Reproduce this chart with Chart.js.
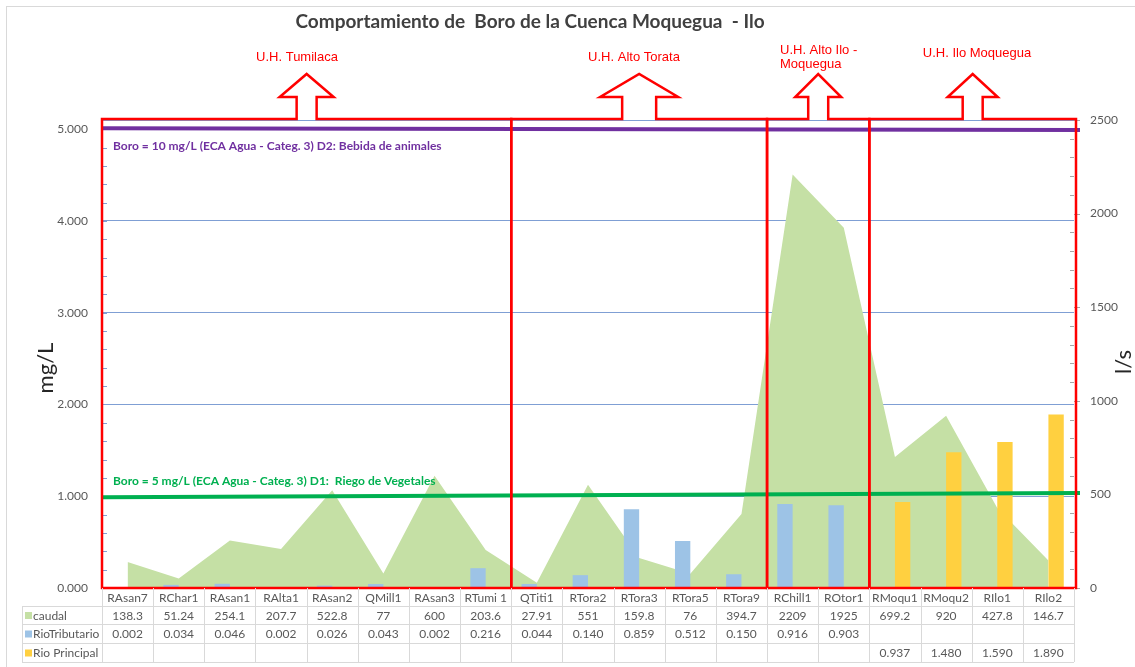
<!DOCTYPE html>
<html lang="es">
<head>
<meta charset="utf-8">
<title>Comportamiento de Boro de la Cuenca Moquegua - Ilo</title>
<script src="https://cdn.jsdelivr.net/npm/chart.js@4.4.1/dist/chart.umd.min.js"></script>
<style>
    html, body { margin: 0; padding: 0; background: #ffffff; }
    #lienzo { display: block; }
</style>
</head>
<body>
<canvas id="lienzo" width="1135" height="667"></canvas>
<script>
// Datos
const estaciones = ['RAsan7', 'RChar1', 'RAsan1', 'RAlta1', 'RAsan2', 'QMill1', 'RAsan3', 'RTumi 1', 'QTiti1',
    'RTora2', 'RTora3', 'RTora5', 'RTora9', 'RChill1', 'ROtor1', 'RMoqu1', 'RMoqu2', 'RIlo1', 'RIlo2'];
const caudal = [138.3, 51.24, 254.1, 207.7, 522.8, 77, 600, 203.6, 27.91, 551, 159.8, 76, 394.7, 2209, 1925, 699.2, 920, 427.8, 146.7];
const rioTributario = [0.002, 0.034, 0.046, 0.002, 0.026, 0.043, 0.002, 0.216, 0.044, 0.140, 0.859, 0.512, 0.150, 0.916, 0.903, null, null, null, null];
const rioPrincipal = [null, null, null, null, null, null, null, null, null, null, null, null, null, null, null, 0.937, 1.480, 1.590, 1.890];
const ticksMgL = [0, 1, 2, 3, 4, 5];
const ticksCaudal = [0, 500, 1000, 1500, 2000, 2500];
const maxMgL = 5.1;
const maxCaudal = 2500;

const lineasEca = [
    { texto: 'Boro = 10 mg/L (ECA Agua - Categ. 3) D2: Bebida de animales', inicio: 5.01, fin: 4.99 },
    { texto: 'Boro = 5 mg/L (ECA Agua - Categ. 3) D1:  Riego de Vegetales', inicio: 0.99, fin: 1.035 }
];
const unidades = [
    { nombre: ['U.H. Tumilaca'], desde: 0, hasta: 7 },
    { nombre: ['U.H. Alto Torata'], desde: 8, hasta: 12 },
    { nombre: ['U.H. Alto Ilo -', 'Moquegua'], desde: 13, hasta: 14 },
    { nombre: ['U.H. Ilo Moquegua'], desde: 15, hasta: 18 }
];

// Estilos
const COLOR_CAUDAL = 'rgb(197, 224, 165)';
const COLOR_TRIBUTARIO = 'rgb(157, 195, 230)';
const COLOR_PRINCIPAL = 'rgb(255, 208, 64)';
const COLOR_TEXTO = '#595959';
const COLOR_GRILLA = '#7F9FD4';
const FUENTE = 'Lato, "Open Sans", sans-serif';
const FUENTE_ROJA = '"Liberation Sans", Arial, sans-serif';
const estiloLineasEca = [
    { color: '#7030A0', textoY: 146 },
    { color: '#00B050', textoY: 481 }
];
const estiloFlechas = [
    { cabeza: 27, asta: 10, texto: { x: 297, y: [57], alinear: 'center' } },
    { cabeza: 39, asta: 17, texto: { x: 634, y: [57], alinear: 'center' } },
    { cabeza: 23, asta: 10, texto: { x: 780, y: [50, 64], alinear: 'left' } },
    { cabeza: 25, asta: 10, texto: { x: 977, y: [53], alinear: 'center' } }
];

function anchoCategoria(escalaX) {
    return escalaX.width / estaciones.length;
}

function dibujarLineasEca(chart) {
    const { ctx, chartArea, scales: { y } } = chart;
    ctx.save();
    lineasEca.forEach((linea, i) => {
        const estilo = estiloLineasEca[i];
        ctx.strokeStyle = estilo.color;
        ctx.lineWidth = 4;
        ctx.beginPath();
        ctx.moveTo(chartArea.left, y.getPixelForValue(linea.inicio));
        ctx.lineTo(chartArea.right + 6, y.getPixelForValue(linea.fin));
        ctx.stroke();

        ctx.fillStyle = estilo.color;
        ctx.font = `bold 12px ${FUENTE}`;
        ctx.textAlign = 'left';
        ctx.textBaseline = 'middle';
        ctx.fillText(linea.texto, chartArea.left + 11, estilo.textoY);
    });
    ctx.restore();
}

function dibujarCuencas(chart) {
    const { ctx, chartArea, scales: { x } } = chart;
    const mitad = anchoCategoria(x) / 2;
    const arriba = chartArea.top - 1;
    const abajo = chartArea.bottom;
    const puntaY = 74;
    const baseCabezaY = 97;

    ctx.save();
    ctx.strokeStyle = '#FF0000';
    ctx.lineWidth = 2.5;
    ctx.lineJoin = 'miter';
    unidades.forEach((unidad, i) => {
        const estilo = estiloFlechas[i];
        const izq = x.getPixelForValue(unidad.desde) - mitad;
        const der = x.getPixelForValue(unidad.hasta) + mitad + (i === unidades.length - 1 ? 2 : 0);
        const centro = (izq + der) / 2;

        ctx.beginPath();
        ctx.moveTo(izq, abajo);
        ctx.lineTo(izq, arriba);
        ctx.lineTo(centro - estilo.asta, arriba);
        ctx.lineTo(centro - estilo.asta, baseCabezaY);
        ctx.lineTo(centro - estilo.cabeza, baseCabezaY);
        ctx.lineTo(centro, puntaY);
        ctx.lineTo(centro + estilo.cabeza, baseCabezaY);
        ctx.lineTo(centro + estilo.asta, baseCabezaY);
        ctx.lineTo(centro + estilo.asta, arriba);
        ctx.lineTo(der, arriba);
        ctx.lineTo(der, abajo);
        ctx.closePath();
        ctx.stroke();

        ctx.fillStyle = '#FF0000';
        ctx.font = `13px ${FUENTE_ROJA}`;
        ctx.textBaseline = 'middle';
        ctx.textAlign = estilo.texto.alinear;
        unidad.nombre.forEach((renglon, r) => {
            ctx.fillText(renglon, estilo.texto.x, estilo.texto.y[r]);
        });
    });
    ctx.restore();
}

function dibujarMarcasEjes(chart) {
    const { ctx, chartArea, scales: { y, y1 } } = chart;
    ctx.save();
    // linea superior del area de trazado
    ctx.strokeStyle = COLOR_GRILLA;
    ctx.lineWidth = 1;
    ctx.beginPath();
    ctx.moveTo(chartArea.left, chartArea.top + 0.5);
    ctx.lineTo(chartArea.right, chartArea.top + 0.5);
    ctx.stroke();

    // marcas menores eje izquierdo
    for (let v = 0; v <= maxMgL; v += 0.2) {
        const py = Math.round(y.getPixelForValue(v)) + 0.5;
        ctx.beginPath();
        ctx.moveTo(chartArea.left + 1, py);
        ctx.lineTo(chartArea.left + 5, py);
        ctx.stroke();
    }

    // marcas eje derecho
    ctx.strokeStyle = '#A6A6A6';
    for (let v = 0; v <= maxCaudal; v += 100) {
        const py = Math.round(y1.getPixelForValue(v)) + 0.5;
        const mayor = v % 500 === 0;
        ctx.beginPath();
        ctx.moveTo(mayor ? chartArea.right : chartArea.right - 4, py);
        ctx.lineTo(mayor ? chartArea.right + 6 : chartArea.right, py);
        ctx.stroke();
    }
    ctx.restore();
}

function dibujarTabla(chart) {
    const { ctx, chartArea, scales: { x } } = chart;
    const ancho = anchoCategoria(x);
    const lineasY = [chartArea.bottom, 606, 624, 643, 662];
    const izqTabla = 22;
    const filas = [
        { nombre: 'caudal', color: COLOR_CAUDAL, valores: caudal.map(v => String(v)) },
        { nombre: 'RioTributario', color: COLOR_TRIBUTARIO, valores: rioTributario.map(v => v === null ? '' : v.toFixed(3)) },
        { nombre: 'Rio Principal', color: COLOR_PRINCIPAL, valores: rioPrincipal.map(v => v === null ? '' : v.toFixed(3)) }
    ];

    ctx.save();
    ctx.strokeStyle = '#D9D9D9';
    ctx.lineWidth = 1;
    // lineas horizontales
    for (let i = 1; i < lineasY.length; i++) {
        ctx.beginPath();
        ctx.moveTo(izqTabla, lineasY[i] + 0.5);
        ctx.lineTo(chartArea.right, lineasY[i] + 0.5);
        ctx.stroke();
    }
    // lineas verticales
    ctx.beginPath();
    ctx.moveTo(izqTabla + 0.5, lineasY[1]);
    ctx.lineTo(izqTabla + 0.5, lineasY[4]);
    ctx.stroke();
    for (let i = 0; i <= estaciones.length; i++) {
        const px = Math.round(chartArea.left + i * ancho) + 0.5;
        ctx.beginPath();
        ctx.moveTo(px, lineasY[0]);
        ctx.lineTo(px, lineasY[4]);
        ctx.stroke();
    }

    ctx.fillStyle = COLOR_TEXTO;
    ctx.font = `12px ${FUENTE}`;
    ctx.textBaseline = 'middle';
    ctx.textAlign = 'center';
    estaciones.forEach((estacion, i) => {
        ctx.fillText(estacion, x.getPixelForValue(i), (lineasY[0] + lineasY[1]) / 2 + 1);
    });

    filas.forEach((fila, f) => {
        const centroY = (lineasY[f + 1] + lineasY[f + 2]) / 2 + 1;
        ctx.fillStyle = fila.color;
        ctx.fillRect(izqTabla + 3, centroY - 4, 7, 7);
        ctx.fillStyle = COLOR_TEXTO;
        ctx.textAlign = 'left';
        ctx.fillText(fila.nombre, izqTabla + 11, centroY);
        ctx.textAlign = 'center';
        fila.valores.forEach((valor, i) => {
            if (valor) ctx.fillText(valor, x.getPixelForValue(i), centroY);
        });
    });
    ctx.restore();
}

function dibujarTextos(chart) {
    const { ctx } = chart;
    ctx.save();
    // marco del grafico
    ctx.strokeStyle = '#D9D9D9';
    ctx.lineWidth = 1;
    ctx.strokeRect(6.5, 6.5, 1200, 800);

    ctx.fillStyle = '#404040';
    ctx.font = `bold 19px ${FUENTE}`;
    ctx.textAlign = 'center';
    ctx.textBaseline = 'middle';
    ctx.fillText('Comportamiento de  Boro de la Cuenca Moquegua  - Ilo', 530, 22);

    ctx.fillStyle = '#262626';
    ctx.font = `22px ${FUENTE}`;
    ctx.translate(46, 368);
    ctx.rotate(-Math.PI / 2);
    ctx.fillText('mg/L', 0, 0);
    ctx.restore();

    ctx.save();
    ctx.fillStyle = '#262626';
    ctx.font = `22px ${FUENTE}`;
    ctx.textAlign = 'center';
    ctx.textBaseline = 'middle';
    ctx.translate(1124, 362);
    ctx.rotate(-Math.PI / 2);
    ctx.fillText('l/s', 0, 0);
    ctx.restore();
}

const pluginDecoracion = {
    id: 'decoracion',
    beforeDatasetsDraw(chart) {
        dibujarMarcasEjes(chart);
    },
    afterDatasetsDraw(chart) {
        dibujarLineasEca(chart);
        dibujarCuencas(chart);
    },
    afterDraw(chart) {
        dibujarTabla(chart);
        dibujarTextos(chart);
    }
};

const pluginFondo = {
    id: 'fondo',
    beforeDraw(chart) {
        const { ctx, width, height } = chart;
        ctx.save();
        ctx.fillStyle = '#ffffff';
        ctx.fillRect(0, 0, width, height);
        ctx.restore();
    }
};

new Chart(document.getElementById('lienzo'), {
    type: 'bar',
    data: {
        labels: estaciones,
        datasets: [
            {
                type: 'line',
                label: 'caudal',
                data: caudal,
                yAxisID: 'y1',
                backgroundColor: COLOR_CAUDAL,
                borderWidth: 0,
                pointRadius: 0,
                tension: 0,
                fill: 'origin',
                order: 2
            },
            {
                label: 'RioTributario',
                data: rioTributario,
                yAxisID: 'y',
                backgroundColor: COLOR_TRIBUTARIO,
                categoryPercentage: 0.6,
                barPercentage: 1,
                order: 1
            },
            {
                label: 'Rio Principal',
                data: rioPrincipal,
                yAxisID: 'y',
                backgroundColor: COLOR_PRINCIPAL,
                categoryPercentage: 0.6,
                barPercentage: 1,
                order: 1
            }
        ]
    },
    options: {
        responsive: false,
        animation: false,
        layout: { padding: { top: 120, left: 0, right: 0, bottom: 0 } },
        plugins: {
            legend: { display: false },
            title: { display: false },
            tooltip: { enabled: false }
        },
        scales: {
            x: {
                grid: { display: false },
                border: { display: false },
                ticks: { display: false },
                afterFit: escala => { escala.height = 79; }
            },
            y: {
                position: 'left',
                min: 0,
                max: maxMgL,
                afterBuildTicks: escala => { escala.ticks = ticksMgL.map(v => ({ value: v })); },
                grid: { color: COLOR_GRILLA, lineWidth: 1, drawTicks: false },
                border: { display: false },
                ticks: {
                    padding: 14,
                    color: COLOR_TEXTO,
                    font: { family: FUENTE, size: 12 },
                    callback: valor => Number(valor).toFixed(3)
                },
                afterFit: escala => { escala.width = 102; }
            },
            y1: {
                position: 'right',
                min: 0,
                max: maxCaudal,
                afterBuildTicks: escala => { escala.ticks = ticksCaudal.map(v => ({ value: v })); },
                grid: { display: false, drawTicks: false },
                border: { display: false },
                ticks: {
                    padding: 16,
                    color: COLOR_TEXTO,
                    font: { family: FUENTE, size: 12 },
                    callback: valor => String(valor)
                },
                afterFit: escala => { escala.width = 61; }
            }
        }
    },
    plugins: [pluginFondo, pluginDecoracion]
});
</script>
</body>
</html>
